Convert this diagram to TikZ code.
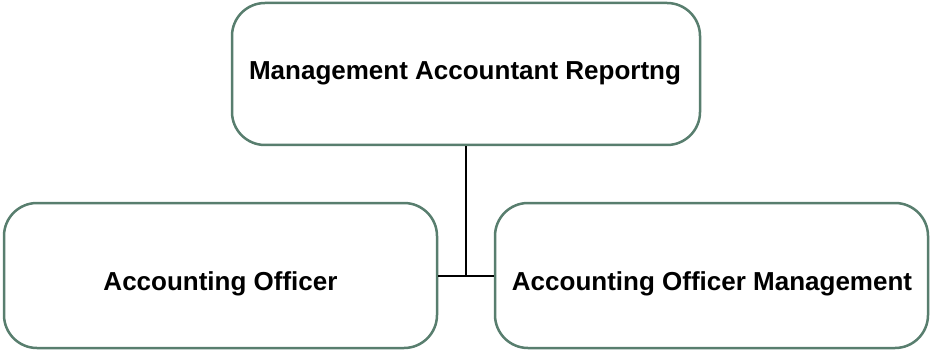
\documentclass[tikz,border=0pt]{standalone}
\usepackage{fontspec}
\setmainfont{Liberation Sans}
\definecolor{boxline}{RGB}{88,126,110}
\begin{document}
\begin{tikzpicture}[x=1pt,y=1pt,
  box/.style={draw=boxline,line width=2.5pt,rounded corners=33pt,inner sep=0pt},
  lbl/.style={font=\bfseries\fontsize{26}{30}\selectfont,anchor=base,inner sep=0pt},
  conn/.style={draw=black,line width=2pt}]
\useasboundingbox (0,0) rectangle (933,351);
\node[box,minimum width=468pt,minimum height=142pt] (top) at (466,277) {};
\node[box,minimum width=433pt,minimum height=145pt] (left) at (220.5,75.5) {};
\node[box,minimum width=433pt,minimum height=145pt] (right) at (711.5,75.5) {};
\node[lbl] (toptext) at (465,271) {Management Accountant Reportng};
\node[lbl] (lefttext) at (220.5,61) {Accounting Officer};
\node[lbl] (righttext) at (712,61) {Accounting Officer Management};
\draw[conn] (left.east) -- (right.west);
\draw[conn] (top.south) -- (top.south |- left.east);
\end{tikzpicture}
\end{document}
